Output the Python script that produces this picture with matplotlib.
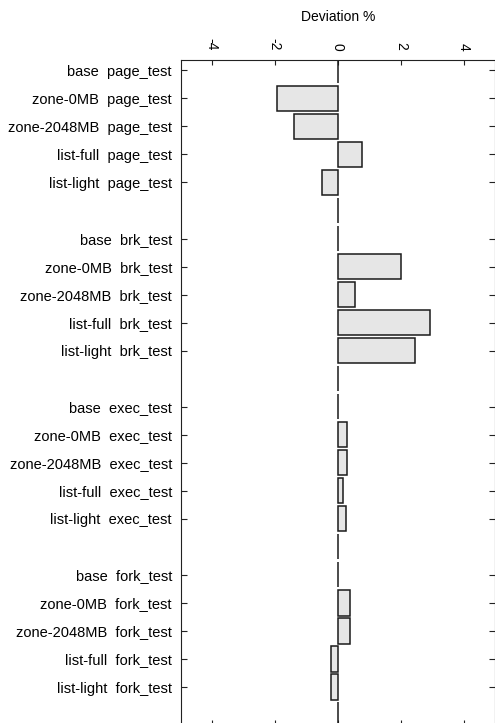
import numpy as np
import matplotlib
matplotlib.use("Agg")
import matplotlib.pyplot as plt

plt.rcParams["font.family"] = ["Liberation Sans", "DejaVu Sans"]

# datos (desviacion en %)
tests = ["page_test", "brk_test", "exec_test", "fork_test"]
configs = ["base", "zone-0MB", "zone-2048MB", "list-full", "list-light"]
page_test = [0.0, -1.93, -1.39, 0.76, -0.49]
brk_test = [0.0, 2.00, 0.56, 2.93, 2.46]
exec_test = [0.0, 0.28, 0.28, 0.18, 0.25]
fork_test = [0.0, 0.40, 0.38, -0.20, -0.20]
xticks = [-4, -2, 0, 2, 4]

W, H = 495, 723
fig = plt.figure(figsize=(W / 100, H / 100), dpi=100)
# el panel se sale un poco por abajo (como en el original)
left, right, top, bottom = 181, 494.5, 60, 725.4
ax = fig.add_axes([left / W, 1 - bottom / H, (right - left) / W, (bottom - top) / H])

vals, labels, ticks = [], [], []
row = 0
for name, v in zip(tests, [page_test, brk_test, exec_test, fork_test]):
    for cfg, x in zip(configs, v):
        vals.append(x); labels.append(cfg + "  " + name); ticks.append(row)
        row += 1
    row += 1           # fila vacia entre grupos (barra de ancho 0)
pos = np.arange(row)
allv = np.zeros(row)
allv[ticks] = vals

ax.barh(pos, allv, height=0.9, color="#e6e6e6", edgecolor="#1a1a1a",
        linewidth=1.1, zorder=2)

ax.set_xlim(-4.97, 4.97)
ax.set_ylim(row - 0.63, -0.37)
ax.set_yticks(ticks)
ax.set_yticklabels(labels, fontsize=10.5)
ax.set_xticks(xticks)
ax.set_xticklabels([str(t) for t in xticks], rotation=-90, fontsize=10)
ax.xaxis.set_label_position("top")
ax.set_xlabel("Deviation %", fontsize=10, labelpad=12)
ax.tick_params(axis="x", direction="in", length=3.6, width=0.8, color="#222222",
               top=True, bottom=True, labeltop=True, labelbottom=False, pad=7)
ax.tick_params(axis="y", direction="in", length=4.2, width=0.8, color="#222222",
               left=True, right=True, labelleft=True, labelright=False, pad=6.5)
for s in ax.spines.values():
    s.set_color("#222222"); s.set_linewidth(0.8)

fig.savefig("out.png", dpi=100)
